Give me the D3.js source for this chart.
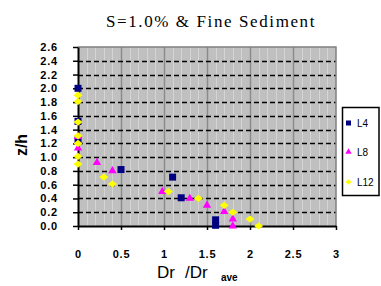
<!DOCTYPE html>
<html>
<head>
<meta charset="utf-8">
<script src="https://cdn.jsdelivr.net/npm/d3@7"></script>
<style>
body { margin: 0; background: #fff; }
text { font-family: Arial, "Liberation Sans", sans-serif; }
</style>
</head>
<body>
<script>
// series
var l4X = [0, 0, 0, 0.5, 1.1, 1.2, 1.6, 1.6],
	l4Y = [2.0, 1.52, 1.25, 0.82, 0.71, 0.41, 0.09, 0.01];
var l8X = [0, 0, 0.22, 0.4, 0.98, 1.3, 1.5, 1.7, 1.8, 1.8],
	l8Y = [1.3, 1.13, 0.92, 0.8, 0.5, 0.4, 0.3, 0.21, 0.1, 0.0];
var l12X = [0, 0, 0, 0, 0, 0, 0, 0.3, 0.4, 1.05, 1.4, 1.7, 1.8, 2.0, 2.1],
	l12Y = [1.9, 1.81, 1.51, 1.31, 1.2, 1.01, 0.9, 0.71, 0.61, 0.5, 0.4, 0.3, 0.2, 0.1, 0.0];
var seriesNames = ["L4", "L8", "L12"];
var xTicks = [0, 0.5, 1, 1.5, 2, 2.5, 3],
	yTicks = [0, 0.2, 0.4, 0.6, 0.8, 1.0, 1.2, 1.4, 1.6, 1.8, 2.0, 2.2, 2.4, 2.6];

var w = 381, h = 286;
var svg = d3.select("body").append("svg")
	.attr("width", w)
	.attr("height", h);

var x = d3.scaleLinear().domain([0, 3]).range([78, 336]),
	y = d3.scaleLinear().domain([0, 2.6]).range([226, 47]);

// plot area
svg.append("rect")
	.attr("x", x(0)).attr("y", y(2.6))
	.attr("width", x(3) - x(0)).attr("height", y(0) - y(2.6))
	.attr("fill", "#c0c0c0");

// minor vertical grid every 0.1, darker every 0.5
var minor = d3.range(1, 30).map(function (i) { return i / 10; });
svg.selectAll("line.vminor")
	.data(minor)
	.enter().append("line")
	.attr("x1", function (d) { return Math.round(x(d)) + 0.5; })
	.attr("x2", function (d) { return Math.round(x(d)) + 0.5; })
	.attr("y1", y(2.6)).attr("y2", y(0))
	.attr("stroke", function (d, i) { return (i + 1) % 5 === 0 ? "#8c8c8c" : "#d4d4d4"; })
	.attr("stroke-width", function (d, i) { return (i + 1) % 5 === 0 ? 1.5 : 1; });

// dashed horizontal grid
svg.selectAll("line.hgrid")
	.data(yTicks.slice(1, -1))
	.enter().append("line")
	.attr("x1", x(0)).attr("x2", x(3))
	.attr("y1", function (d) { return Math.round(y(d)) + 0.5; })
	.attr("y2", function (d) { return Math.round(y(d)) + 0.5; })
	.attr("stroke", "#000")
	.attr("stroke-width", 1.3)
	.attr("stroke-dasharray", "5,3");

// top and right border
svg.append("path")
	.attr("d", "M" + x(0) + "," + y(2.6) + "H" + x(3) + "V" + y(0))
	.attr("fill", "none")
	.attr("stroke", "#808080")
	.attr("stroke-width", 1.5);

// axes
var yAxis = d3.axisLeft(y).tickValues(yTicks).tickSize(5).tickSizeOuter(0).tickPadding(15)
	.tickFormat(function (d) { return d.toFixed(1); });
var xAxis = d3.axisBottom(x).tickValues(xTicks).tickSize(4).tickSizeOuter(0).tickPadding(20)
	.tickFormat(function (d) { return d; });

var gy = svg.append("g").attr("transform", "translate(" + x(0) + ",0)").call(yAxis);
var gx = svg.append("g").attr("transform", "translate(0," + y(0) + ")").call(xAxis);

[gx, gy].forEach(function (g) {
	g.select(".domain").attr("stroke", "#000").attr("stroke-width", 2);
	g.selectAll(".tick line").attr("stroke", "#000").attr("stroke-width", 1.5);
	g.selectAll(".tick text")
		.attr("fill", "#000")
		.style("font-size", "11px")
		.style("font-weight", "bold")
		.style("letter-spacing", "0.8px")
		.style("font-family", "Arial, 'Liberation Sans', sans-serif");
});
gy.selectAll(".tick text").attr("x", -20);

// markers
var square = d3.symbol().type(d3.symbolSquare).size(49),
	triangle = d3.symbol().type(d3.symbolTriangle).size(30),
	diamond = "M-4.5,0L0,-3.6L4.5,0L0,3.6Z";

svg.selectAll("path.l4")
	.data(l4X)
	.enter().append("path")
	.attr("d", square)
	.attr("transform", function (d, i) { return "translate(" + x(d) + "," + y(l4Y[i]) + ")"; })
	.attr("fill", "#000080");

svg.selectAll("path.l8")
	.data(l8X)
	.enter().append("path")
	.attr("d", triangle)
	.attr("transform", function (d, i) { return "translate(" + x(d) + "," + y(l8Y[i]) + ")"; })
	.attr("fill", "#ff00ff");

svg.selectAll("path.l12")
	.data(l12X)
	.enter().append("path")
	.attr("d", diamond)
	.attr("transform", function (d, i) { return "translate(" + x(d) + "," + y(l12Y[i]) + ")"; })
	.attr("fill", "#ffff00");

// title
svg.append("text")
	.attr("x", 211).attr("y", 27)
	.attr("text-anchor", "middle")
	.style("font-family", "'Liberation Serif', 'Times New Roman', serif")
	.style("font-size", "17px")
	.style("letter-spacing", "1.6px")
	.text("S=1.0% & Fine Sediment");

// axis titles
svg.append("text")
	.attr("transform", "translate(27,145) rotate(-90)")
	.attr("text-anchor", "middle")
	.style("font-size", "16px")
	.style("font-weight", "bold")
	.text("z/h");

svg.append("text")
	.attr("x", 157).attr("y", 278)
	.style("font-size", "17px")
	.text("Dr");
svg.append("text")
	.attr("x", 185).attr("y", 278)
	.style("font-size", "17px")
	.text("/Dr");
svg.append("text")
	.attr("x", 221).attr("y", 281)
	.style("font-size", "10px")
	.style("font-weight", "bold")
	.text("ave");

// legend
var lg = svg.append("g");
lg.append("rect")
	.attr("x", 342.5).attr("y", 107.5)
	.attr("width", 36.5).attr("height", 88)
	.attr("fill", "#fff")
	.attr("stroke", "#000")
	.attr("stroke-width", 1.5);

var legendY = [123, 152, 182],
	legendMarks = [
		d3.symbol().type(d3.symbolSquare).size(25)(),
		d3.symbol().type(d3.symbolTriangle).size(18)(),
		"M-3,0L0,-2.8L3,0L0,2.8Z"
	],
	legendColors = ["#000080", "#ff00ff", "#ffff00"];

seriesNames.forEach(function (name, i) {
	lg.append("path")
		.attr("d", legendMarks[i])
		.attr("transform", "translate(348.5," + legendY[i] + ")")
		.attr("fill", legendColors[i]);
	lg.append("text")
		.attr("x", 357).attr("y", legendY[i] + 3.5)
		.style("font-size", "10px")
		.text(name);
});
</script>
</body>
</html>
